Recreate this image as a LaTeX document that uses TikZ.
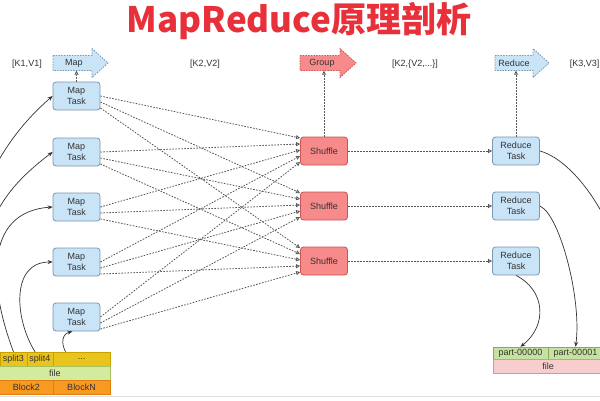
\documentclass[tikz,border=0pt]{standalone}
\usepackage{fontspec}
\setmainfont{Liberation Sans}
\newfontfamily\cjk{Noto Sans CJK SC}
\usetikzlibrary{arrows.meta,calc}
\definecolor{titlered}{HTML}{E8303A}
\definecolor{taskfill}{HTML}{C9E3F7}
\definecolor{taskborder}{HTML}{7A98B0}
\definecolor{shuffill}{HTML}{F78A8A}
\definecolor{shufborder}{HTML}{C85555}
\definecolor{dotc}{HTML}{555555}
\definecolor{curvec}{HTML}{333333}
\definecolor{textc}{HTML}{333333}
\definecolor{goldfill}{HTML}{E9C41C}
\definecolor{goldborder}{HTML}{C9A200}
\definecolor{greenfill}{HTML}{D4EA9C}
\definecolor{greenborder}{HTML}{A9C060}
\definecolor{orangefill}{HTML}{F89A22}
\definecolor{orangeborder}{HTML}{D98010}
\definecolor{partfill}{HTML}{C6E2A0}
\definecolor{partborder}{HTML}{8AA860}
\definecolor{pinkfill}{HTML}{F8CDCD}
\definecolor{pinkborder}{HTML}{D09A9A}
\tikzset{
  task/.style={draw=taskborder, fill=taskfill, rounded corners=3pt, minimum width=47pt,
    minimum height=28pt, inner sep=0pt, align=center, text=textc, line width=0.8pt,
    font=\fontsize{9}{10.5}\selectfont},
  shuf/.style={task, draw=shufborder, fill=shuffill},
  dotarr/.style={draw=dotc, line width=0.8pt, dash pattern=on 1.6pt off 1.4pt,
    -{Triangle[open,length=4pt,width=4pt]}},
  sarr/.style={draw=curvec, line width=0.7pt, -{Stealth[length=5pt,width=4pt]}},
  bigarrow/.style={line width=0.8pt, dash pattern=on 1.5pt off 1.2pt},
  lbl/.style={text=textc, font=\fontsize{9}{10}\selectfont, inner sep=0pt},
  cell/.style={inner sep=0pt, minimum height=14pt, line width=0.5pt, text=textc,
    font=\fontsize{9}{10}\selectfont},
}
\begin{document}
\begin{tikzpicture}[x=1pt,y=-1pt]
\useasboundingbox (0,0) rectangle (600,400);
\clip (0,0) rectangle (600,400);
\fill[white] (0,0) rectangle (600,400);

% title
\node[font=\cjk\bfseries\fontsize{35}{35}\selectfont, text=titlered, inner sep=0pt] (title) at (299,21) {MapReduce原理剖析};

% top arrows
\draw[bigarrow, draw=taskborder, fill=taskfill] (53,55.5) -- (92,55.5) -- (92,48.5) -- (108,63) -- (92,77.5) -- (92,70.5) -- (53,70.5) -- cycle;
\draw[bigarrow, draw=shufborder, fill=shuffill] (300,55.5) -- (340,55.5) -- (340,48.5) -- (356,63) -- (340,77.5) -- (340,70.5) -- (300,70.5) -- cycle;
\draw[bigarrow, draw=taskborder, fill=taskfill] (495,55.5) -- (533,55.5) -- (533,48.5) -- (549,63) -- (533,77.5) -- (533,70.5) -- (495,70.5) -- cycle;
\node[lbl, minimum height=15pt] (mapb) at (74,63) {Map};
\node[lbl, minimum height=15pt] (groupb) at (322,63) {Group};
\node[lbl, minimum height=15pt] (redb) at (514,63) {Reduce};

% key/value labels
\node[lbl] (kv1) at (27,64) {[K1,V1]};
\node[lbl] (kv2) at (205,64) {[K2,V2]};
\node[lbl] (kv3) at (415,64) {[K2,\{V2,...\}]};
\node[lbl, anchor=east] (kv4) at (599.5,64) {[K3,V3]};

% map tasks
\node[task] (m1) at (76.5,96) {Map\\Task};
\node[task] (m2) at (76.5,152) {Map\\Task};
\node[task] (m3) at (76.5,207) {Map\\Task};
\node[task] (m4) at (76.5,262) {Map\\Task};
\node[task] (m5) at (76.5,317) {Map\\Task};

% shuffles
\node[shuf] (s1) at (324,151) {Shuffle};
\node[shuf] (s2) at (324,206) {Shuffle};
\node[shuf] (s3) at (324,261) {Shuffle};

% reduce tasks
\node[task] (r1) at (516,151) {Reduce\\Task};
\node[task] (r2) at (516,206) {Reduce\\Task};
\node[task] (r3) at (516,261) {Reduce\\Task};

% up arrows
\draw[dotarr] (m1.north) -- (m1.north |- mapb.south);
\draw[dotarr] (s1.north) -- (s1.north |- groupb.south);
\draw[dotarr] (r1.north) -- (r1.north |- redb.south);

% map -> shuffle
\foreach \i in {1,...,5}{
  \foreach \j in {1,2,3}{
    \draw[dotarr] ($(m\i.east)+(0,{(\j-1)*6})$) -- ($(s\j.west)+(0,{(\i-3)*6-1})$);
  }
}
% shuffle -> reduce
\foreach \j in {1,2,3}{
  \draw[dotarr] (s\j.east) -- (r\j.west);
}

% input table
\node[cell, draw=goldborder, fill=goldfill, minimum width=27pt] (sp3) at (13.5,359) {split3};
\node[cell, draw=goldborder, fill=goldfill, minimum width=26pt] (sp4) at (40,359) {split4};
\node[cell, draw=goldborder, fill=goldfill, minimum width=57pt] (spn) at (81.5,359) {...};
\node[cell, draw=greenborder, fill=greenfill, minimum width=130pt] (file1) at (45,373) {};
\node[lbl] (file1t) at (55,373) {file};
\node[cell, draw=orangeborder, fill=orangefill, minimum width=73pt] (b2) at (16.5,387) {};
\node[lbl] (b2t) at (26.5,387) {Block2};
\node[cell, draw=orangeborder, fill=orangefill, minimum width=57pt] (bn) at (81.5,387) {BlockN};
\coordinate (sp1) at (-40,352);
\coordinate (sp2) at (-13,352);

% input curves
\draw[sarr] (sp1) .. controls (-45,230) and (-10,150) .. (m1.west);
\draw[sarr] (sp2) .. controls (-30,240) and (-8,198) .. (m2.west);
\draw[sarr] (sp3.north) .. controls (-10,290) and (-18,212) .. (m3.west);
\draw[sarr] ($(sp4.north)+(-5,0)$) .. controls (15,320) and (10,262) .. (m4.west);
\draw[sarr] ($(spn.north)+(-16,0)$) .. controls (61,343) and (62,334) .. ($(m5.south)+(-4,0)$);

% output table
\node[cell, draw=partborder, fill=partfill, minimum width=55pt, minimum height=12pt] (p0) at (520.5,353) {part-00000};
\node[cell, draw=partborder, fill=partfill, minimum width=55pt, minimum height=12pt] (p1) at (575.5,353) {part-00001};
\node[cell, draw=pinkborder, fill=pinkfill, minimum width=110pt, minimum height=14pt] (file2) at (548,366) {file};
\coordinate (p2) at (640,347);

% output curves
\draw[sarr] (r1.east) .. controls (580,162) and (632,240) .. (p2);
\draw[sarr] (r2.east) .. controls (560,215) and (582,300) .. (p1.north);
\draw[sarr] (r3.south) .. controls (545,290) and (548,325) .. (p0.north);

% slide edge
\draw[gray!25, line width=0.6pt] (0,396) -- (600,396);
\end{tikzpicture}
\end{document}
